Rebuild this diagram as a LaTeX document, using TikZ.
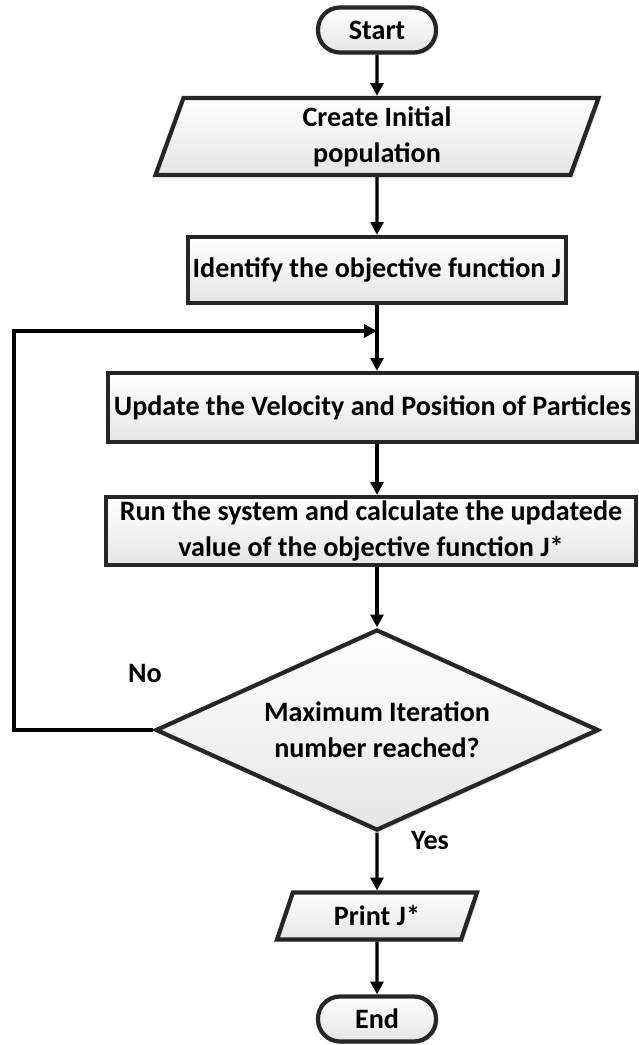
\documentclass[tikz,border=0pt]{standalone}
\usepackage{fontspec}
\setmainfont{Carlito}
\usetikzlibrary{shapes.geometric,arrows.meta,shadows}
\begin{document}
\begin{tikzpicture}[
        line width=2.4pt,
        font=\fontsize{20}{25.5}\selectfont\bfseries,
        >={Triangle[length=0.32cm,width=0.32cm]}
    ]
    \tikzset{
        box/.style = {draw=black!85, line width=3pt, align=center, top color=white, bottom color=black!10, drop shadow={shadow xshift=0.06cm, shadow yshift=-0.06cm, opacity=0.25}, inner sep=0pt},
        termbox/.style = {box, rectangle, rounded corners=0.55cm, minimum width=2.95cm, minimum height=1.125cm},
        procbox/.style = {box, rectangle},
        iobox/.style = {box, trapezium, trapezium stretches body},
        testbox/.style = {box, diamond, aspect=2.2, minimum width=11.075cm, minimum height=5.025cm},
    }
    \useasboundingbox (0,0) rectangle (15.975,-26.125);
    \node[termbox] (start) at (9.425,-0.75) {Start};
    \node[iobox, trapezium left angle=65, trapezium right angle=115, minimum width=11.075cm, minimum height=1.925cm] (create) at (9.425,-3.4125) {Create Initial\\population};
    \node[procbox, minimum width=9.45cm, minimum height=1.65cm] (identify) at (9.425,-6.75) {Identify the objective function J};
    \node[procbox, minimum width=13.225cm, minimum height=1.725cm] (update) at (9.3125,-10.1875) {Update the Velocity and Position of Particles};
    \node[procbox, minimum width=13.25cm, minimum height=1.7cm] (run) at (9.275,-13.275) {Run the system and calculate the updatede\\value of the objective function J*};
    \node[testbox] (test) at (9.425,-18.25) {Maximum Iteration\\number reached?};
    \node[iobox, trapezium left angle=52, trapezium right angle=128, minimum width=5cm, minimum height=1.175cm] (print) at (9.425,-22.9) {Print J*};
    \node[termbox] (end) at (9.425,-25.475) {End};
    \node (no) at (3.625,-16.825) {No};
    \node (yes) at (10.75,-21) {Yes};
    \coordinate (join) at (9.425,-8.275);
    \coordinate (back) at (0.35,-8.275);
    \draw[->] (start) -- (create);
    \draw[->] (create) -- (identify);
    \draw[->] (identify.south) -- (identify.south |- update.north);
    \draw[->] (identify.south |- update.south) -- (identify.south |- run.north);
    \draw[->] (identify.south |- run.south) -- (test.north);
    \draw[->] (test.south) -- (print.north);
    \draw[->] (print) -- (end);
    \draw[->] (test.west) -| (back) -- (join);
\end{tikzpicture}
\end{document}
